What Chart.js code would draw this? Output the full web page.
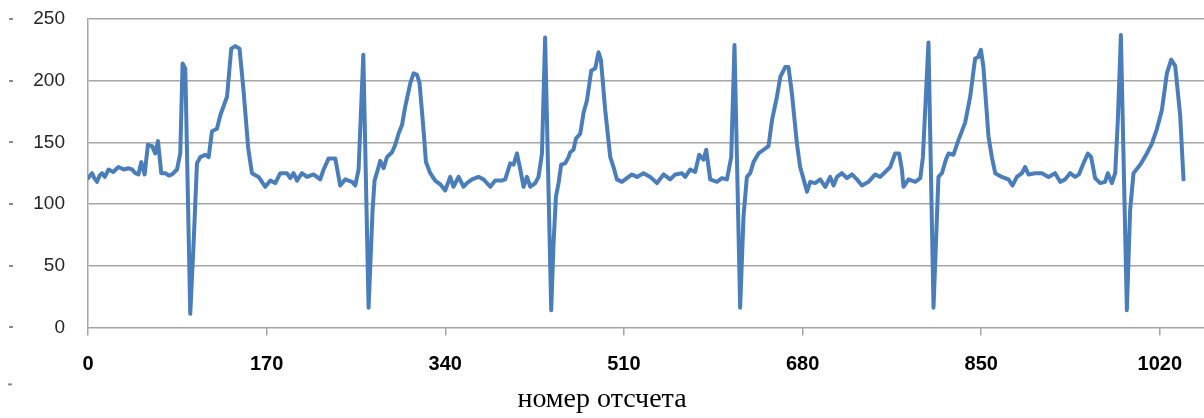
<!DOCTYPE html>
<html>
<head>
<meta charset="utf-8">
<style>
  html, body { margin: 0; padding: 0; background: #fff; }
  #wrap { width: 1204px; height: 418px; }
</style>
<script src="https://cdn.jsdelivr.net/npm/chart.js@4/dist/chart.umd.min.js"></script>
</head>
<body>
<div id="wrap"><canvas id="chart" width="1204" height="418"></canvas></div>
<script>
const xTicks = [0, 170, 340, 510, 680, 850, 1020];
const yTicks = [0, 50, 100, 150, 200, 250];

// sample number (x) and signal value (y)
const sampleNo = [
  0, 3.8, 6, 8.6, 11, 13.3, 16, 19.6, 24, 29, 34, 38.6, 42, 45, 48, 50.7, 53.9, 57, 61, 64, 66.6, 69.7, 73.5, 77, 80, 84.7, 87.8,
  90, 92.6, 97.3, 100.5, 103.7, 106.9, 111.6, 114.8, 118, 122.7, 125.9, 132.3, 136.3, 140.2, 144.2, 148, 152.5, 156,
  162.3, 168.7, 173.5, 178.2, 183, 189.3, 192.5, 195.6, 198.9, 203.6, 208.4, 214.6, 221, 224.2, 229, 235.3, 240, 244.8, 251.2, 254.3, 257.5,
  262, 267, 270.8, 272.7, 276.5, 278.1, 281.3, 284.5, 289.3, 292.4, 295.5, 298.8, 301.9, 306.7, 309.8, 313, 315.5, 319.3, 321.6, 325.7,
  330.4, 335.2, 339.9, 344.7, 347.8, 352.6, 357.4, 360.6, 365.4, 371.6, 376.4, 382.8, 387.5, 393.9, 397, 401.8, 405, 408.2, 411.4, 414.5,
  417.7, 420.9, 425.6, 428.7, 432, 435, 440.8, 443, 445.3, 447.8, 450.3, 454.1, 457.3, 458.9, 462, 464.3, 468.4, 471.6, 474.8, 478.9,
  482.7, 485.8, 488.1, 492.2, 497, 500.1, 503.3, 508.1, 512.8, 517.6, 522.4, 528.6, 535, 541.4, 547.7, 554, 558.8, 565.2, 568.3, 573.1,
  577.8, 581.6, 585.7, 588.3, 592.1, 598.5, 603.2, 608, 612.1, 615.2, 620.6, 623.8, 627, 630.2, 633.3, 638.1, 642.9, 647.6, 650.9,
  655.6, 658.8, 663.5, 666.6, 669.8, 674.6, 677.7, 681, 684.2, 687.3, 692, 696.8, 701.6, 706.3, 709.5, 712.7, 717.4, 722.2, 727, 731.7,
  736.5, 742.7, 749.1, 753.9, 758.6, 763.4, 768.1, 771.9, 774.5, 776, 780.8, 787.2, 792, 794.5, 799.8, 804.6, 809.3, 812.6, 816.4, 818.9,
  823.6, 828.4, 834.7, 839.5, 844.2, 847, 849.7, 852.1, 856.9, 860.1, 863.3, 869.6, 875.9, 879.7, 883.9, 888.7, 891.8, 895, 901.3,
  907.7, 914, 920.3, 925.1, 929.9, 934.6, 939.4, 943, 947.3, 951.5, 954.6, 958.4, 963.2, 967.9, 970.5, 974.3, 977.5, 980, 982.9,
  988.6, 991.7, 994.9, 999.6, 1002.9, 1007.6, 1012.4, 1017.2, 1021.9, 1026.7, 1030.8, 1034.6, 1039.3, 1042.5
];
const amplitude = [
  121, 125, 121, 118, 123, 125, 122, 128, 126, 130, 128, 129, 128, 125, 124, 134, 124, 148, 147, 141, 151, 125, 125, 123, 124, 128, 141,
  214, 210, 11, 68, 133, 138, 140, 138, 159, 161, 172, 187, 226, 228, 226, 192, 145, 125,
  122, 114, 119, 117, 125, 125, 121, 125, 119, 125, 122, 124, 120, 128, 137, 137, 115, 120, 118, 115, 128,
  221, 16, 95, 119, 130, 135, 129, 138, 142, 148, 157, 164, 179, 198, 206, 205, 198, 160, 134, 125,
  119, 116, 111, 122, 114, 122, 114, 117, 120, 122, 120, 114, 119, 119, 120, 133, 132, 141, 128, 114,
  122, 114, 117, 122, 141, 235, 14, 68, 106, 117, 132, 133, 138, 142, 144, 153, 157, 174, 184, 208,
  210, 223, 217, 176, 138, 130, 120, 118, 121, 124, 122, 125, 122, 117, 124, 120, 124, 125, 122, 128,
  126, 140, 136, 144, 120, 118, 121, 120, 138, 229, 16, 90, 122, 125, 134, 141, 144, 147, 168,
  187, 203, 211, 211, 190, 149, 130, 120, 110, 118, 117, 120, 114, 122, 115, 122, 125, 121, 124, 120,
  115, 118, 124, 122, 126, 130, 141, 141, 128, 114, 120, 118, 121, 138, 231, 16, 122, 125, 136, 141,
  140, 152, 166, 187, 218, 219, 225, 211, 155, 138, 125, 122, 120, 115, 122, 125, 130, 124, 125,
  125, 122, 125, 118, 120, 125, 122, 124, 133, 141, 138, 121, 117, 118, 125, 117, 125, 168, 237,
  14, 95, 125, 130, 134, 141, 149, 161, 176, 206, 217, 212, 172, 120
];

const points = sampleNo.map((x, i) => ({ x: x, y: amplitude[i] }));
const gridGray = '#a6a6a6';

// small dashes left of the y labels, as in the scanned original
const edgeDashes = {
  id: 'edgeDashes',
  afterDraw(chart) {
    const c = chart.ctx;
    const y = chart.scales.y;
    c.save();
    c.fillStyle = '#8c8c8c';
    yTicks.forEach(v => { c.fillRect(9, Math.round(y.getPixelForValue(v)) - 1, 4, 2); });
    c.fillRect(8, chart.scales.x.bottom + 5, 4, 2);
    c.restore();
  }
};

const ctx = document.getElementById('chart').getContext('2d');
new Chart(ctx, {
  type: 'line',
  data: {
    datasets: [{
      data: points,
      borderColor: '#4a7ebb',
      borderWidth: 4,
      pointRadius: 0,
      tension: 0,
      borderJoinStyle: 'round',
      borderCapStyle: 'round'
    }]
  },
  options: {
    responsive: false,
    animation: false,
    layout: { padding: { top: 19, right: 0, bottom: 2, left: 0 } },
    plugins: {
      legend: { display: false },
      tooltip: { enabled: false },
      title: {
        display: true,
        position: 'bottom',
        text: 'номер отсчета',
        color: '#000',
        font: { family: 'Liberation Serif', size: 28, weight: 'normal' },
        padding: { top: 4, bottom: 0 }
      }
    },
    scales: {
      x: {
        type: 'linear',
        min: 0,
        max: 1062,
        afterBuildTicks: s => { s.ticks = xTicks.map(v => ({ value: v })); },
        afterFit: s => { s.height = 51; },
        grid: { drawOnChartArea: false, drawTicks: true, tickLength: 8, color: gridGray, lineWidth: 1.5 },
        border: { display: false },
        ticks: { padding: 17, color: '#000', maxRotation: 0, autoSkip: false,
                 callback: v => String(v),
                 font: { family: 'Liberation Sans', size: 20, weight: 'bold' } }
      },
      y: {
        min: 0,
        max: 250,
        afterBuildTicks: s => { s.ticks = yTicks.map(v => ({ value: v })); },
        afterFit: s => { s.width = 88; s.paddingTop = 0; s.paddingBottom = 0; },
        grid: { color: gridGray, lineWidth: 1.5, drawTicks: false },
        border: { color: gridGray, width: 1.5 },
        ticks: { padding: 23, color: '#262626', font: { family: 'Liberation Sans', size: 19 } }
      }
    }
  },
  plugins: [edgeDashes]
});
</script>
</body>
</html>
